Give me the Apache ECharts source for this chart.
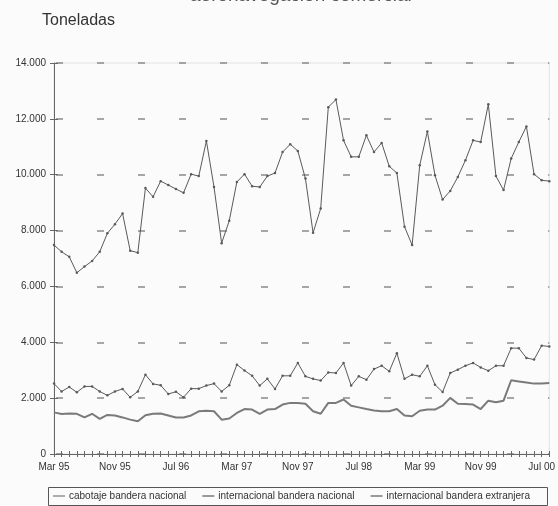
<!DOCTYPE html>
<html>
<head>
<meta charset="utf-8">
<script src="https://cdn.jsdelivr.net/npm/echarts@6/dist/echarts.min.js"></script>
<style>
html,body{margin:0;padding:0;background:#fbfbfb;}
#c{width:558px;height:506px;}
</style>
</head>
<body>
<div id="c"></div>
<script>
const categories = [
 'Mar 95','Abr 95','May 95','Jun 95','Jul 95','Ago 95','Sep 95','Oct 95','Nov 95','Dic 95',
 'Ene 96','Feb 96','Mar 96','Abr 96','May 96','Jun 96','Jul 96','Ago 96','Sep 96','Oct 96','Nov 96','Dic 96',
 'Ene 97','Feb 97','Mar 97','Abr 97','May 97','Jun 97','Jul 97','Ago 97','Sep 97','Oct 97','Nov 97','Dic 97',
 'Ene 98','Feb 98','Mar 98','Abr 98','May 98','Jun 98','Jul 98','Ago 98','Sep 98','Oct 98','Nov 98','Dic 98',
 'Ene 99','Feb 99','Mar 99','Abr 99','May 99','Jun 99','Jul 99','Ago 99','Sep 99','Oct 99','Nov 99','Dic 99',
 'Ene 00','Feb 00','Mar 00','Abr 00','May 00','Jun 00','Jul 00','Ago 00'
];
const seriesNames = ['cabotaje bandera nacional','internacional bandera nacional','internacional bandera extranjera'];
const cabotajeNacional = [
 1490,1435,1450,1440,1310,1440,1260,1400,1380,1310,1230,1170,1390,1440,1450,1380,1310,1310,1380,1530,1550,1530,
 1230,1270,1470,1610,1590,1440,1590,1610,1770,1830,1830,1800,1530,1440,1830,1830,1950,1730,1670,1610,1560,1530,
 1530,1610,1380,1350,1550,1590,1590,1730,2010,1800,1790,1770,1610,1910,1850,1910,2640,2600,2560,2520,2520,2540
];
const internacionalNacional = [
 2520,2240,2400,2210,2420,2420,2240,2100,2240,2330,2030,2240,2840,2510,2460,2150,2230,2030,2340,2340,2450,2520,
 2240,2460,3200,2990,2800,2450,2690,2330,2800,2800,3260,2780,2690,2630,2920,2900,3260,2450,2780,2660,3040,3160,
 2960,3610,2690,2840,2780,3160,2480,2220,2900,3020,3160,3260,3100,2980,3160,3160,3790,3790,3440,3380,3880,3850
];
const internacionalExtranjera = [
 7480,7240,7060,6490,6710,6910,7240,7900,8230,8610,7280,7210,9520,9210,9770,9630,9490,9350,10020,9950,11210,9560,
 7550,8350,9740,10020,9590,9560,9950,10060,10810,11090,10850,9860,7920,8790,12420,12690,11230,10640,10640,11410,
 10810,11140,10300,10060,8140,7480,10340,11550,9980,9110,9420,9920,10520,11230,11170,12520,9950,9450,10580,11170,
 11730,10020,9800,9770
];
const yTicks = [0,2000,4000,6000,8000,10000,12000,14000];

const FONT = '"Liberation Sans", Arial, sans-serif';
const chart = echarts.init(document.getElementById('c'), null, {renderer:'canvas'});
const fmt = v => v === 0 ? '0' : v.toLocaleString('de-DE');

chart.setOption({
  backgroundColor: '#fbfbfb',
  animation: false,
  textStyle: {fontFamily: FONT},
  graphic: [
    {type:'text', left: 190, top: -14, style:{text:'aeronavegación comercial', fontSize:19, fontFamily:FONT, fill:'#555'}},
    {type:'text', left: 42, top: 13, style:{text:'Toneladas', fontSize:16, fontFamily:FONT, fill:'#333'}},
    {type:'rect', shape:{x:48.5, y:487.5, width:499, height:18}, style:{fill:'none', stroke:'#555', lineWidth:1}}
  ],
  legend: {
    data: seriesNames,
    left: 53, top: 491,
    itemWidth: 12, itemHeight: 1.2, itemGap: 16,
    icon: 'rect',
    padding: 0,
    textStyle: {fontSize: 10, color:'#333', fontFamily: FONT, padding:[0,0,0,-1]}
  },
  grid: {left: 54, right: 4, top: 63, bottom: 52, show: true, borderColor: '#e2e2e2', borderWidth: 1},
  xAxis: [{
    type: 'category', data: categories, boundaryGap: false,
    axisLine: {lineStyle: {color:'#666', width:1}},
    axisTick: {interval: 0, length: 3, lineStyle:{color:'#666'}},
    axisLabel: {interval: 7, fontSize: 10, color:'#333', margin: 8, fontFamily: FONT},
    splitLine: {show:false}
  },{
    type: 'category', data: categories, boundaryGap: false, position:'bottom',
    axisLine: {show:false},
    axisTick: {interval: 0, length: 3, inside: true, lineStyle:{color:'#666'}},
    axisLabel: {show:false}, splitLine:{show:false}
  }],
  yAxis: [{
    type: 'value', min: 0, max: 14000, interval: 2000,
    axisLine: {show:true, lineStyle:{color:'#666'}},
    axisTick: {show:true, length: 4, lineStyle:{color:'#666'}},
    axisLabel: {formatter: fmt, fontSize: 10, color:'#333', margin: 8, fontFamily: FONT},
    splitLine: {show:true, lineStyle:{color:'#8a8a8a', width:1.5, type:[7,34], dashOffset:39}}
  },{
    type: 'value', min: 0, max: 14000, interval: 2000, position:'left',
    axisLine: {show:false},
    axisTick: {show:true, inside:true, length: 4, lineStyle:{color:'#666'}},
    axisLabel: {show:false}, splitLine: {show:false}
  }],
  series: [
    {name: seriesNames[0], type:'line', data: cabotajeNacional, showSymbol:false, symbol:'none',
     lineStyle:{color:'#7a7a7a', width:2}, itemStyle:{color:'#7a7a7a'}},
    {name: seriesNames[1], type:'line', data: internacionalNacional, symbol:'circle', symbolSize:2.5,
     lineStyle:{color:'#5a5a5a', width:1}, itemStyle:{color:'#5a5a5a'}},
    {name: seriesNames[2], type:'line', data: internacionalExtranjera, symbol:'circle', symbolSize:2.5,
     lineStyle:{color:'#5a5a5a', width:1}, itemStyle:{color:'#5a5a5a'}}
  ]
});
</script>
</body>
</html>
